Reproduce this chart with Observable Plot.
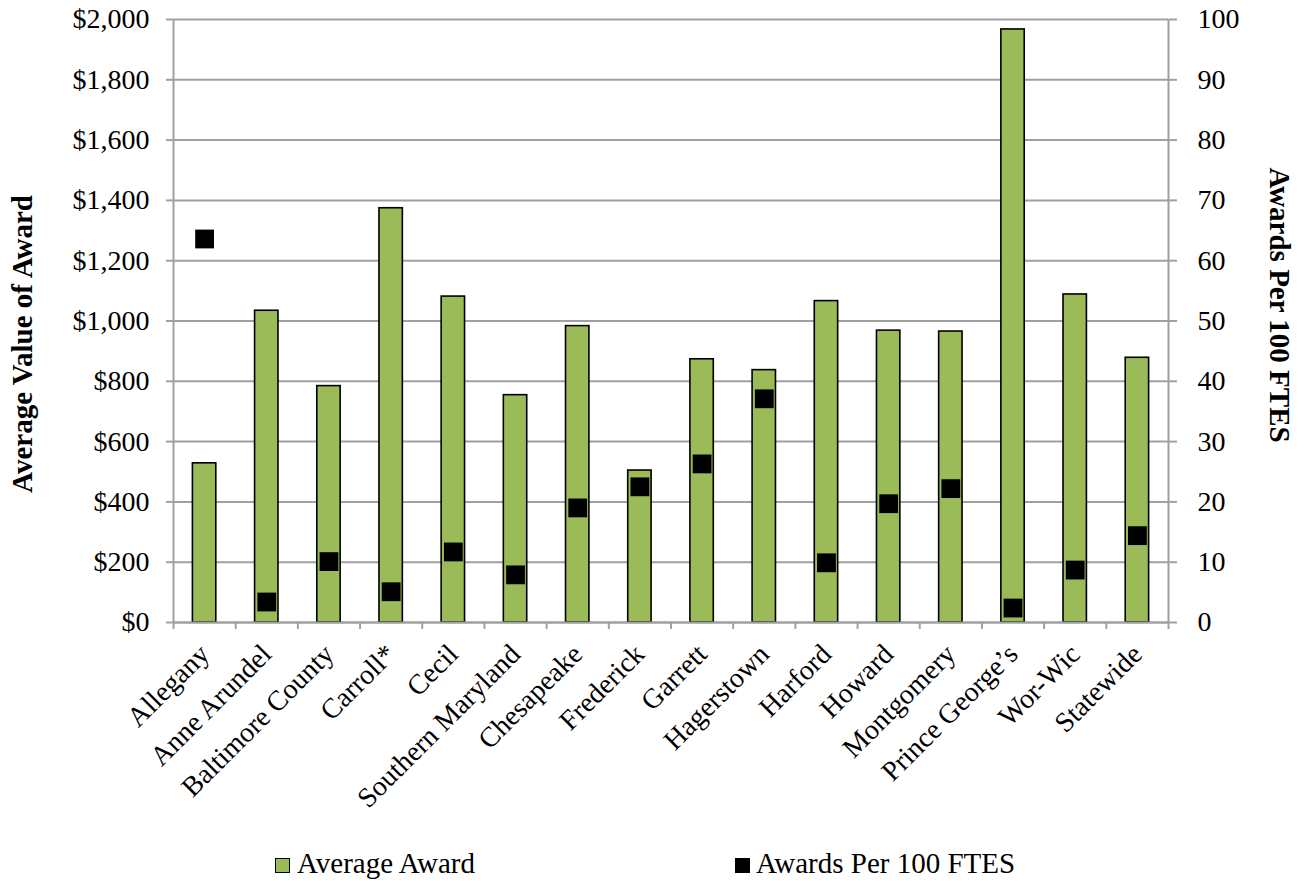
<!DOCTYPE html>
<html><head><meta charset="utf-8">
<script src="https://cdn.jsdelivr.net/npm/d3@7"></script>
<script src="https://cdn.jsdelivr.net/npm/@observablehq/plot@0.6"></script>
<style>
body{margin:0;background:#fff;font-family:"Liberation Serif","Tinos","Times New Roman","DejaVu Serif",Times,serif;}
#wrap{position:relative;width:1307px;height:881px;overflow:hidden;}
.sw{position:absolute;top:858px;width:15px;height:15px;box-sizing:border-box;}
.lt{position:absolute;top:846px;font-size:29px;line-height:34px;color:#000;white-space:nowrap;}
svg text{font-family:"Liberation Serif","Tinos","Times New Roman","DejaVu Serif",Times,serif;}
</style></head><body><div id="wrap"></div>
<script>
const categories = ["Allegany","Anne Arundel","Baltimore County","Carroll*","Cecil","Southern Maryland","Chesapeake","Frederick","Garrett","Hagerstown","Harford","Howard","Montgomery","Prince George\u2019s","Wor-Wic","Statewide"];
const averageAward = [528,1034,784,1374,1081,754,983,504,873,837,1066,968,965,1967,1088,878];
const awardsPer100 = [63.6,3.4,10.1,5.1,11.7,7.9,19.0,22.5,26.3,37.1,9.9,19.7,22.2,2.4,8.7,14.4];
const leftTicks = [0,200,400,600,800,1000,1200,1400,1600,1800,2000];
const rightTicks = [0,10,20,30,40,50,60,70,80,90,100];
const seriesNames = ["Average Award","Awards Per 100 FTES"];
const seriesColors = ["#9BBB59","#000000"];

const FONT = "'Liberation Serif','Tinos','Times New Roman','DejaVu Serif',Times,serif";
const rightMax = 100, leftMax = 2000, k = leftMax / rightMax;
const rows = categories.map((c,i)=>({i, c, avg: averageAward[i], per: awardsPer100[i]}));
const W = 1307, H = 840, bottom = 622;
const grid = "#a0a0a0";

const chart = Plot.plot({
  width: W, height: H,
  marginLeft: 173, marginRight: 139, marginTop: 19, marginBottom: H - bottom,
  style: {fontFamily: FONT, fontSize: "28px", color: "#000", background: "#fff", overflow: "visible"},
  x: {type: "linear", domain: [0, categories.length]},
  y: {domain: [0, leftMax]},
  marks: [
    Plot.ruleY(leftTicks, {stroke: grid, strokeWidth: 2}),
    Plot.ruleX([0, categories.length], {stroke: grid, strokeWidth: 2}),
    Plot.rectY(rows, {x1: "i", x2: d => d.i + 1, y1: 0, y2: "avg", insetLeft: 19.4, insetRight: 19.4, fill: seriesColors[0], stroke: "#000", strokeWidth: 1.6}),
    Plot.dot(rows, {x: d => d.i + 0.5, y: d => d.per * k, symbol: "square", r: 10.6, fill: seriesColors[1], stroke: null}),
    Plot.axisY({anchor: "left", ticks: leftTicks, tickFormat: d => "$" + d3.format(",")(d), tickSize: 7, tickPadding: 17, stroke: grid, strokeWidth: 2, fill: "#000", label: null, fontSize: 28}),
    Plot.axisY({anchor: "right", ticks: rightTicks.map(v => v * k), tickFormat: d => String(d / k), tickSize: 8, tickPadding: 21, stroke: grid, strokeWidth: 2, fill: "#000", label: null, fontSize: 28}),
    Plot.axisX({ticks: d3.range(categories.length + 1), tickFormat: () => "", tickSize: 7, stroke: grid, strokeWidth: 2, label: null}),
    Plot.axisX({ticks: d3.range(categories.length).map(i => i + 0.5), tickFormat: v => categories[Math.floor(v)], tickSize: 0, tickPadding: 27, tickRotate: -45, fill: "#000", label: null, fontSize: 28}),
    Plot.ruleY([0], {stroke: grid, strokeWidth: 2}),
    Plot.text(["Average Value of Award"], {frameAnchor: "left", textAnchor: "middle", dx: -151, dy: 23, rotate: -90, fontWeight: "bold", fontSize: 29, fill: "#000"}),
    Plot.text(["Awards Per 100 FTES"], {frameAnchor: "right", textAnchor: "middle", dx: 111, dy: -16, rotate: 90, fontWeight: "bold", fontSize: 29, fill: "#000"})
  ]
});
const wrap = document.getElementById("wrap");
wrap.appendChild(chart);
const swatchLefts = [275, 735];
const textLefts = [297, 756];
seriesNames.forEach((n, j) => {
  const sw = document.createElement("div");
  sw.className = "sw";
  sw.style.left = swatchLefts[j] + "px";
  sw.style.background = seriesColors[j];
  if (j === 0) sw.style.border = "1.5px solid #000";
  wrap.appendChild(sw);
  const t = document.createElement("div");
  t.className = "lt";
  t.style.left = textLefts[j] + "px";
  t.textContent = n;
  wrap.appendChild(t);
});
</script></body></html>
